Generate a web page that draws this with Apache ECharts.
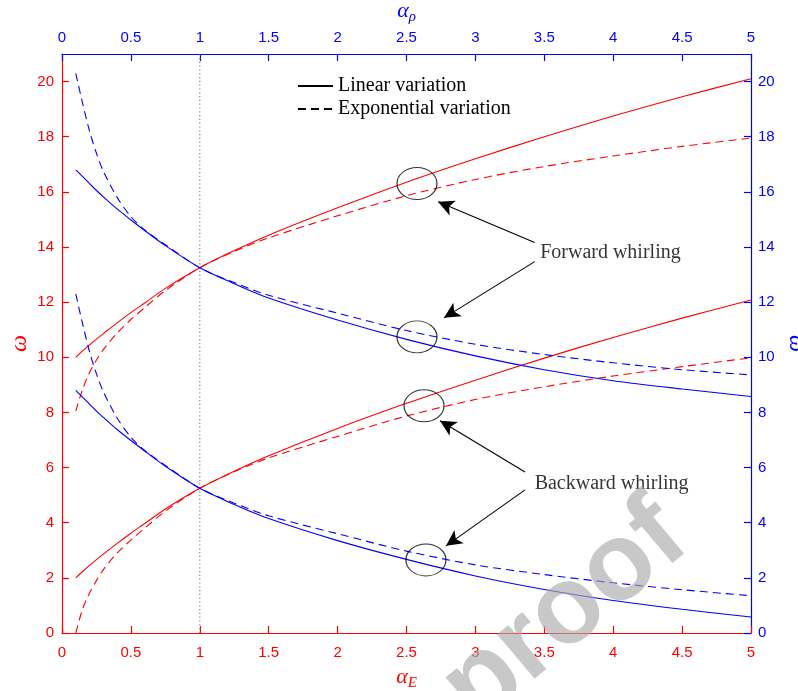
<!DOCTYPE html>
<html>
<head>
<meta charset="utf-8">
<script src="https://cdn.jsdelivr.net/npm/echarts@6/dist/echarts.min.js"></script>
<style>
  html, body { margin: 0; padding: 0; background: #ffffff; }
  #chart { width: 798px; height: 691px; }
</style>
</head>
<body>
<div id="chart"></div>
<script>
// Stiffness / density gradation parameter (alpha)
const alpha = [0.1, 0.15, 0.2, 0.25, 0.3, 0.4, 0.5, 0.6, 0.75, 1, 1.25, 1.5, 2, 2.5, 3, 3.5, 4, 4.5, 5];

// Frequency vs alpha_E (red) - forward / backward whirling
const omegaE_linFwd = [10.0, 10.23, 10.45, 10.66, 10.86, 11.25, 11.62, 11.97, 12.5, 13.25, 13.87, 14.43, 15.42, 16.35, 17.2, 18.0, 18.75, 19.45, 20.1];
const omegaE_expFwd = [8.05, 8.85, 9.45, 9.9, 10.28, 10.88, 11.37, 11.8, 12.42, 13.25, 13.84, 14.33, 15.13, 15.86, 16.45, 16.92, 17.3, 17.65, 17.95];
const omegaE_linBwd = [2.0, 2.23, 2.45, 2.66, 2.86, 3.25, 3.62, 3.97, 4.5, 5.25, 5.87, 6.43, 7.42, 8.33, 9.17, 9.97, 10.72, 11.42, 12.08];
const omegaE_expBwd = [0.0, 0.88, 1.45, 1.9, 2.3, 2.9, 3.37, 3.8, 4.42, 5.25, 5.85, 6.35, 7.13, 7.87, 8.47, 8.93, 9.32, 9.66, 9.98];

// Frequency vs alpha_rho (blue) - forward / backward whirling
const omegaR_linFwd = [16.8, 16.55, 16.3, 16.05, 15.82, 15.38, 14.98, 14.6, 14.05, 13.25, 12.67, 12.15, 11.35, 10.65, 10.05, 9.55, 9.15, 8.85, 8.58];
const omegaR_expFwd = [20.3, 19.2, 18.2, 17.4, 16.75, 15.8, 15.1, 14.62, 14.08, 13.25, 12.71, 12.25, 11.6, 10.97, 10.47, 10.1, 9.8, 9.55, 9.36];
const omegaR_linBwd = [8.8, 8.55, 8.3, 8.05, 7.82, 7.38, 6.98, 6.6, 6.05, 5.25, 4.66, 4.15, 3.35, 2.67, 2.07, 1.58, 1.18, 0.86, 0.58];
const omegaR_expBwd = [12.3, 11.2, 10.2, 9.4, 8.75, 7.8, 7.1, 6.62, 6.08, 5.25, 4.71, 4.25, 3.6, 2.97, 2.47, 2.12, 1.82, 1.57, 1.35];

// Axis ticks
const xTicks = [0, 0.5, 1, 1.5, 2, 2.5, 3, 3.5, 4, 4.5, 5];
const yTicks = [0, 2, 4, 6, 8, 10, 12, 14, 16, 18, 20];

// Reference line at alpha = 1
const refX = [1, 1];
const refY = [0, 21];

// Annotations: circled regions, arrows and captions
const circleX = [2.576, 2.576, 2.627, 2.641];
const circleY = [16.30, 10.74, 8.24, 2.65];
const arrowFrom = [[3.43, 14.16], [3.43, 13.47], [3.36, 5.84], [3.36, 5.19]];
const arrowTo = [[2.729, 15.64], [2.772, 11.43], [2.743, 7.70], [2.787, 3.16]];
const captionText = ['Forward whirling', 'Backward whirling'];
const captionX = [3.47, 3.43];
const captionY = [13.80, 5.42];

const RED = '#ff0000';
const BLUE = '#0000ff';
const SANS = "'Liberation Sans', Arial, sans-serif";
const SERIF = "'Liberation Serif', 'Times New Roman', serif";

const pairs = (xs, ys) => xs.map((x, i) => [x, ys[i]]);

function curve(name, ys, color, dashed) {
  return {
    type: 'line',
    name: name,
    data: pairs(alpha, ys),
    showSymbol: false,
    symbol: 'none',
    smooth: 0.3,
    lineStyle: { color: color, width: 1.1, type: dashed ? [8, 5] : 'solid' },
    itemStyle: { color: color },
    silent: true,
    z: 3
  };
}

function axisCommon(color) {
  return {
    type: 'value',
    min: 0,
    nameMoveOverlap: false,
    axisLine: { show: true, onZero: false, lineStyle: { color: color, width: 1.2 } },
    axisTick: { show: true, inside: true, length: 7, lineStyle: { color: color, width: 1.2 } },
    axisLabel: { color: color, fontFamily: SANS, fontSize: 15 },
    splitLine: { show: false }
  };
}

const chart = echarts.init(document.getElementById('chart'), null, { renderer: 'canvas' });

const xBottom = Object.assign(axisCommon(RED), {
  position: 'bottom', max: 5,
  name: '{a|α}{s|E}', nameLocation: 'middle', nameGap: 30,
  nameTextStyle: {
    rich: {
      a: { fontFamily: SERIF, fontStyle: 'italic', fontSize: 22, color: RED, lineHeight: 28, verticalAlign: 'middle' },
      s: { fontFamily: SERIF, fontStyle: 'italic', fontSize: 15, color: RED, lineHeight: 15, verticalAlign: 'bottom' }
    }
  }
});
xBottom.axisTick.customValues = xTicks;
xBottom.axisLabel.customValues = xTicks;
xBottom.axisLabel.margin = 12;

const xTop = Object.assign(axisCommon(BLUE), {
  position: 'top', max: 5,
  name: '{a|α}{s|ρ}', nameLocation: 'middle', nameGap: 29,
  nameTextStyle: {
    rich: {
      a: { fontFamily: SERIF, fontStyle: 'italic', fontSize: 22, color: BLUE, lineHeight: 28, verticalAlign: 'middle' },
      s: { fontFamily: SERIF, fontStyle: 'italic', fontSize: 15, color: BLUE, lineHeight: 15, verticalAlign: 'bottom' }
    }
  }
});
xTop.axisTick.customValues = xTicks;
xTop.axisLabel.customValues = xTicks;
xTop.axisLabel.margin = 9;

const yLeft = Object.assign(axisCommon(RED), {
  position: 'left', max: 21,
  name: 'ω', nameLocation: 'middle', nameGap: 30,
  nameTextStyle: { fontFamily: SERIF, fontStyle: 'italic', fontSize: 24, color: RED }
});
yLeft.axisTick.customValues = yTicks;
yLeft.axisLabel.customValues = yTicks;
yLeft.axisLabel.margin = 8;

const yRight = Object.assign(axisCommon(BLUE), {
  position: 'right', max: 21,
  name: 'ω', nameLocation: 'middle', nameGap: 33, nameRotate: -90,
  nameTextStyle: { fontFamily: SERIF, fontStyle: 'italic', fontSize: 24, color: BLUE }
});
yRight.axisTick.customValues = yTicks;
yRight.axisLabel.customValues = yTicks;
yRight.axisLabel.margin = 7;

const arrowLines = arrowFrom.map((p, i) => [
  { coord: p, symbol: 'none' },
  { coord: arrowTo[i], symbol: 'arrow', symbolSize: [12, 16] }
]);

const option = {
  animation: false,
  backgroundColor: '#ffffff',
  grid: { left: 62, right: 47, top: 54, bottom: 58, containLabel: false, outerBoundsMode: 'none' },
  legend: {
    data: ['Linear variation', 'Exponential variation'],
    orient: 'vertical',
    left: 297,
    top: 76,
    padding: 0,
    itemWidth: 35,
    itemHeight: 10,
    itemGap: 3,
    selectedMode: false,
    itemStyle: { color: 'rgba(0,0,0,0)', borderColor: 'rgba(0,0,0,0)', borderWidth: 0, opacity: 0 },
    textStyle: { fontFamily: SERIF, fontSize: 20, color: '#000', lineHeight: 20 }
  },
  xAxis: [xBottom, xTop],
  yAxis: [yLeft, yRight],
  series: [
    // legend-only entries (black line styles)
    { type: 'line', name: 'Linear variation', data: [], symbol: 'none', symbolSize: 0,
      lineStyle: { color: '#000', width: 1.1, type: 'solid' }, itemStyle: { color: '#000' } },
    { type: 'line', name: 'Exponential variation', data: [], symbol: 'none', symbolSize: 0,
      lineStyle: { color: '#000', width: 1.1, type: [8, 5] }, itemStyle: { color: '#000' } },

    // dotted reference line at alpha = 1
    { type: 'line', data: pairs(refX, refY), symbol: 'none', silent: true,
      lineStyle: { color: '#808080', width: 1.2, type: [1.2, 2.6] }, z: 1 },

    curve('E lin fwd', omegaE_linFwd, RED, false),
    curve('E exp fwd', omegaE_expFwd, RED, true),
    curve('E lin bwd', omegaE_linBwd, RED, false),
    curve('E exp bwd', omegaE_expBwd, RED, true),
    curve('rho lin fwd', omegaR_linFwd, BLUE, false),
    curve('rho exp fwd', omegaR_expFwd, BLUE, true),
    curve('rho lin bwd', omegaR_linBwd, BLUE, false),
    curve('rho exp bwd', omegaR_expBwd, BLUE, true),

    // circled regions
    { type: 'scatter', data: pairs(circleX, circleY), symbol: 'circle', symbolSize: [40, 32],
      itemStyle: { color: 'rgba(0,0,0,0)', borderColor: '#000', borderWidth: 1.1 }, silent: true, z: 4 },

    // captions and arrows
    { type: 'scatter', data: captionText.map((t, i) => ({ name: t, value: [captionX[i], captionY[i]] })),
      symbolSize: 0, silent: true, z: 4,
      label: { show: true, position: 'right', distance: 0, formatter: '{b}',
               fontFamily: SERIF, fontSize: 20, color: '#000' },
      markLine: {
        silent: true, symbol: ['none', 'arrow'], symbolSize: [12, 16],
        label: { show: false },
        lineStyle: { color: '#000', width: 1.1, type: 'solid' },
        data: arrowLines
      }
    }
  ],
  graphic: [{
    type: 'text',
    x: 673, y: 523,
    rotation: 40 * Math.PI / 180,
    z: 100,
    silent: true,
    style: {
      text: 'Journal Pre-proof',
      font: "bold 110px 'Liberation Sans', Arial, sans-serif",
      fill: 'rgba(170,170,170,0.65)',
      align: 'right',
      verticalAlign: 'middle'
    }
  }]
};

chart.setOption(option);
</script>
</body>
</html>
